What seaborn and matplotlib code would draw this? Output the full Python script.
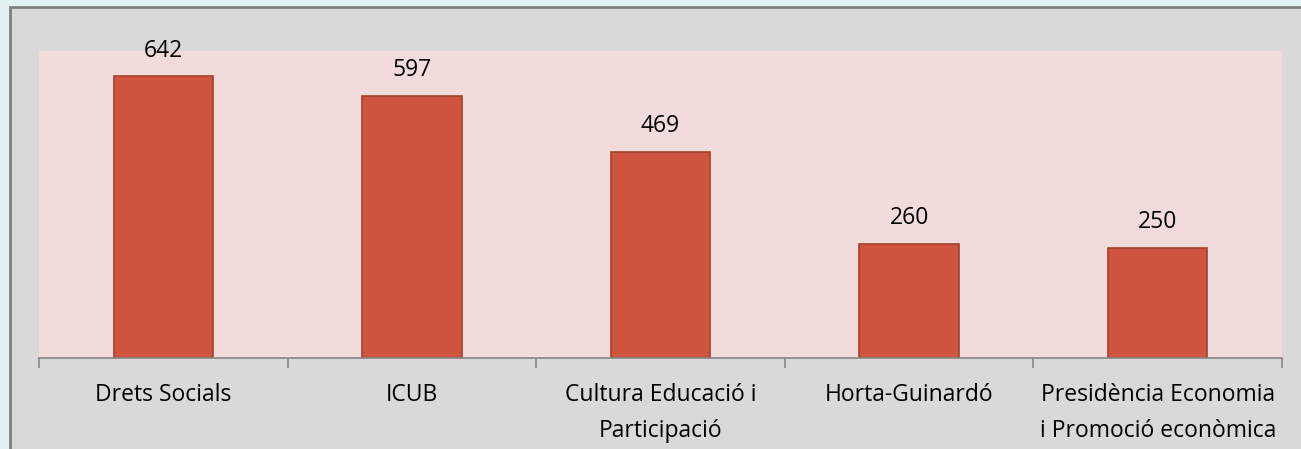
import matplotlib
matplotlib.use("Agg")
import matplotlib.pyplot as plt
from matplotlib.patches import Rectangle
import pandas as pd
import seaborn as sns

# dades del gràfic
categories = ["Drets Socials", "ICUB", "Cultura Educació i\nParticipació",
              "Horta-Guinardó", "Presidència Economia\ni Promoció econòmica"]
values = [642, 597, 469, 260, 250]

sns.set_theme(style="white")
plt.rcParams["font.family"] = ["Open Sans", "DejaVu Sans"]

W, H = 1301, 449
fig = plt.figure(figsize=(W / 100, H / 100), dpi=100, facecolor="#e4f1f2")

# marc del gràfic (fons gris amb vora)
fig.patches.append(Rectangle((10 / W, -0.01), 1.0, 1 - 7 / H + 0.01,
                             transform=fig.transFigure, facecolor="#d9d9d9",
                             edgecolor="#808080", linewidth=2, zorder=-5))

ax = fig.add_axes([39 / W, 1 - 358 / H, (1282 - 39) / W, (358 - 51) / H])
ax.set_zorder(2)
ax.set_facecolor("#f2dcdb")

df = pd.DataFrame({"cat": categories, "val": values})
sns.barplot(data=df, x="cat", y="val", color="#d05541", saturation=1,
            width=0.4, edgecolor="#a3402f", linewidth=1.2, ax=ax)

ax.set_ylim(0, 700)
ax.set_xlim(-0.5, len(categories) - 0.5)
ax.set_xlabel("")
ax.set_ylabel("")
ax.set_yticks([])

for s in ["top", "right", "left"]:
    ax.spines[s].set_visible(False)
ax.spines["bottom"].set_color("#868686")
ax.spines["bottom"].set_linewidth(1.2)

# ticks entre categories
ax.set_xticks([i - 0.5 for i in range(len(categories) + 1)], minor=True)
ax.tick_params(axis="x", which="minor", length=7, width=1.2, color="#868686",
               direction="out", bottom=True)
ax.tick_params(axis="x", which="major", length=0, pad=18, labelsize=16.5,
               labelcolor="black")
for lbl in ax.get_xticklabels():
    lbl.set_linespacing(1.65)
    lbl.set_verticalalignment("top")

for i, v in enumerate(values):
    ax.annotate(f"{v}", (i, v), xytext=(0, 10), textcoords="offset points",
                ha="center", va="bottom", fontsize=16.5, color="black")

fig.savefig("out.png", dpi=100, facecolor=fig.get_facecolor())
